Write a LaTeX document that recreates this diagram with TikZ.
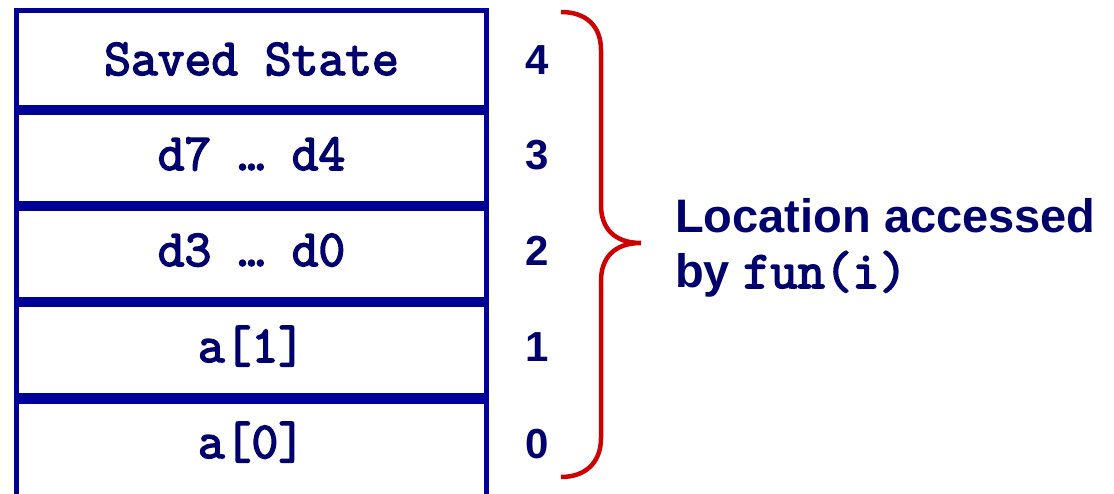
\documentclass[tikz,border=0pt]{standalone}
\usepackage{fontspec}
\setmainfont{Liberation Sans}
\setsansfont{Liberation Sans}
\newfontfamily\cellmono{Latin Modern Mono}[FakeBold=3]
\definecolor{boxblue}{RGB}{0,0,153}
\definecolor{txtnavy}{RGB}{0,0,108}
\definecolor{bracered}{RGB}{204,0,0}
\tikzset{
  rowbox/.style={draw=boxblue, line width=5.3pt, rectangle, inner sep=0pt, minimum width=469.7pt},
  celltext/.style={anchor=base, inner sep=0pt, text=txtnavy, font=\fontsize{52}{52}\selectfont\cellmono},
  idxtext/.style={anchor=base, inner sep=0pt, text=txtnavy, font=\fontsize{42}{42}\selectfont\sffamily\bfseries},
  labeltext/.style={anchor=base west, inner sep=0pt, text=txtnavy, font=\fontsize{47}{55}\selectfont\sffamily\bfseries},
  bracepath/.style={draw=bracered, line width=4.5pt}
}
\begin{document}
\begin{tikzpicture}[x=1pt,y=-1pt]
\useasboundingbox (0,0) rectangle (1114,494);
% rows
\node[rowbox, minimum height=96.7pt] (r4) at (251.5,59) {};
\node[rowbox, minimum height=90.7pt] (r3) at (251.5,158) {};
\node[rowbox, minimum height=90.7pt] (r2) at (251.5,254) {};
\node[rowbox, minimum height=91.2pt] (r1) at (251.5,350.25) {};
\node[rowbox, minimum height=126.2pt] (r0) at (251.5,464.5) {};
% cell texts
\node[celltext] (t4) at (251.5,75) {Saved State};
\node[celltext] (t3) at (251.5,170) {d7 … d4};
\node[celltext] (t2) at (251.5,266) {d3 … d0};
\node[celltext] (t1) at (251.5,362) {a[1]};
\node[celltext] (t0) at (251.5,458) {a[0]};
% indices
\node[idxtext] (i4) at (537,75) {4};
\node[idxtext] (i3) at (537,170) {3};
\node[idxtext] (i2) at (537,266) {2};
\node[idxtext] (i1) at (537,362) {1};
\node[idxtext] (i0) at (537,458) {0};
% brace
\draw[bracepath] (561,12) .. controls (586,12) and (601,26) .. (601,50) -- (601,205)
  .. controls (601,228) and (614,243) .. (641,243)
  .. controls (614,243) and (601,258) .. (601,281) -- (601,438)
  .. controls (601,462) and (586,477) .. (561,477);
% label
\node[labeltext] (lab1) at (675,233) {Location accessed};
\node[labeltext] (lab2) at (675,288) {by {\fontsize{53}{55}\selectfont\cellmono fun(i)}};
\end{tikzpicture}
\end{document}
